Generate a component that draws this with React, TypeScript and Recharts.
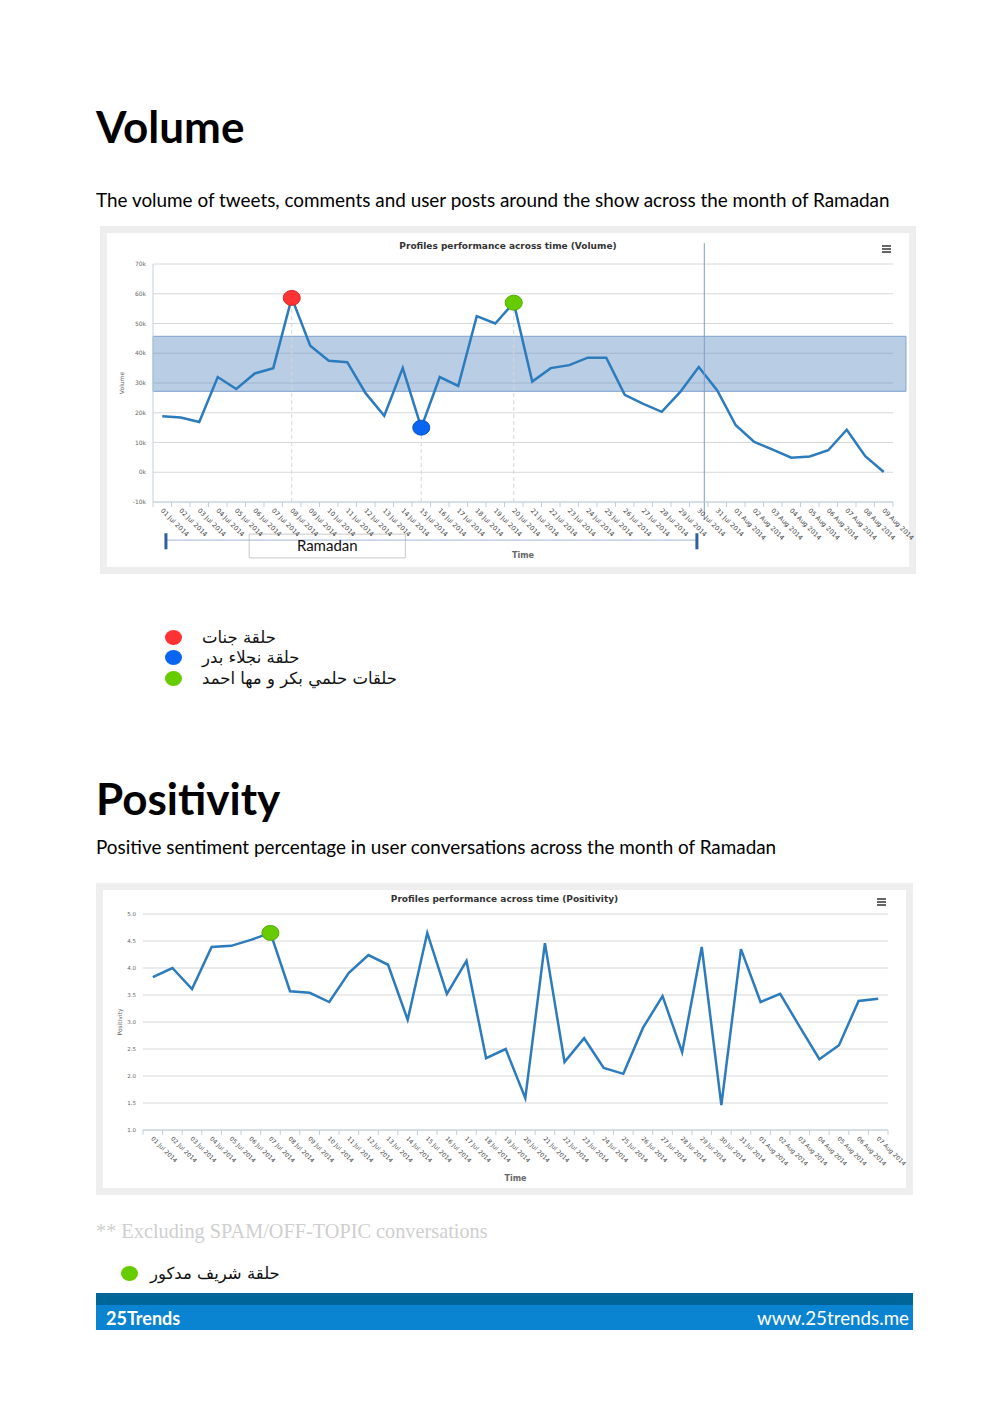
import React from "react";
import {
  LineChart,
  Line,
  XAxis,
  YAxis,
  CartesianGrid,
  ReferenceArea,
  ReferenceLine,
} from "recharts";

// calendar labels (01 Jul 2014 .. 09 Aug 2014)
const days = [
  "01 Jul 2014", "02 Jul 2014", "03 Jul 2014", "04 Jul 2014", "05 Jul 2014",
  "06 Jul 2014", "07 Jul 2014", "08 Jul 2014", "09 Jul 2014", "10 Jul 2014",
  "11 Jul 2014", "12 Jul 2014", "13 Jul 2014", "14 Jul 2014", "15 Jul 2014",
  "16 Jul 2014", "17 Jul 2014", "18 Jul 2014", "19 Jul 2014", "20 Jul 2014",
  "21 Jul 2014", "22 Jul 2014", "23 Jul 2014", "24 Jul 2014", "25 Jul 2014",
  "26 Jul 2014", "27 Jul 2014", "28 Jul 2014", "29 Jul 2014", "30 Jul 2014",
  "31 Jul 2014", "01 Aug 2014", "02 Aug 2014", "03 Aug 2014", "04 Aug 2014",
  "05 Aug 2014", "06 Aug 2014", "07 Aug 2014", "08 Aug 2014", "09 Aug 2014",
];

const volumeValues = [
  18800, 18400, 16900, 32000, 28000, 33200, 35000, 58600, 42500, 37500,
  37000, 26500, 19000, 35000, 15000, 32000, 29000, 52500, 50000, 57000,
  30500, 35000, 36000, 38500, 38500, 26000, 23000, 20300, 27000, 35400,
  27500, 15800, 10200, 7600, 4900, 5300, 7400, 14300, 5400, 100,
];
const volumeTicks = [-10000, 0, 10000, 20000, 30000, 40000, 50000, 60000, 70000];
const volumeBand = [27200, 45700];
const volumeMarkers = [
  { index: 7, color: "#ff3333", stroke: "#d92b2b" },
  { index: 14, color: "#0a66f0", stroke: "#0a55c8" },
  { index: 19, color: "#66cc00", stroke: "#55aa00" },
];

const positivityDays = days.slice(0, 38);
const positivityValues = [
  3.83, 4.0, 3.61, 4.39, 4.41, 4.52, 4.65, 3.57, 3.54, 3.37,
  3.91, 4.24, 4.06, 3.04, 4.65, 3.52, 4.13, 2.33, 2.5, 1.59,
  4.46, 2.26, 2.7, 2.15, 2.04, 2.89, 3.48, 2.44, 4.39, 1.46,
  4.35, 3.37, 3.52, 2.91, 2.31, 2.57, 3.39, 3.43,
];
const positivityTicks = [1, 1.5, 2, 2.5, 3, 3.5, 4, 4.5, 5];
const positivityMarkers = [{ index: 6, color: "#66cc00", stroke: "#55aa00" }];

const volumeLegend = [
  { color: "#ff3333", text: "حلقة جنات" },
  { color: "#0a66f0", text: "حلقة نجلاء بدر" },
  { color: "#66cc00", text: "حلقات حلمي بكر و مها احمد" },
];
const positivityLegend = [{ color: "#66cc00", text: "حلقة شريف مدكور" }];

const volumeData = volumeValues.map((v, i) => ({ i, v }));
const positivityData = positivityValues.map((v, i) => ({ i, v }));

const tickPositions = (n: number) => {
  const t: number[] = [];
  for (let i = 0; i < n; i++) t.push(i - 0.5, i);
  t.push(n - 0.5);
  return t;
};

const LINE = "#2c7bbd";
const PAGE_FONT = "Lato, 'Open Sans', sans-serif";
const CHART_FONT = "'DejaVu Sans', Verdana, sans-serif";

function makeDateTick(labels: string[], fontSize: number) {
  return (props: any) => {
    const { x, y, payload } = props;
    const v = payload.value as number;
    if (!Number.isInteger(v)) {
      return <line x1={x} x2={x} y1={y} y2={y + 5} stroke="#c0d0e0" />;
    }
    const ax = x - 2;
    const ay = y + 9;
    return (
      <text
        x={ax}
        y={ay}
        transform={`rotate(45 ${ax} ${ay})`}
        fontSize={fontSize}
        fill="#444"
        fontFamily={CHART_FONT}
      >
        {labels[v]}
      </text>
    );
  };
}

function makeDot(markers: { index: number; color: string; stroke: string }[]) {
  return (props: any) => {
    const { cx, cy, index } = props;
    const m = markers.find((mk) => mk.index === index);
    if (!m) return <g key={`d${index}`} />;
    return (
      <ellipse
        key={`d${index}`}
        cx={cx}
        cy={cy}
        rx={8.5}
        ry={7.5}
        fill={m.color}
        stroke={m.stroke}
        strokeWidth={1}
      />
    );
  };
}

function Hamburger({ left, top }: { left: number; top: number }) {
  return (
    <div style={{ position: "absolute", left, top, width: 9 }}>
      {[0, 1, 2].map((k) => (
        <div key={k} style={{ height: 1.5, background: "#666", marginBottom: 1.5 }} />
      ))}
    </div>
  );
}

function Frame({
  left,
  top,
  width,
  height,
  title,
  titleTop,
  children,
}: {
  left: number;
  top: number;
  width: number;
  height: number;
  title: string;
  titleTop: number;
  children: React.ReactNode;
}) {
  return (
    <div
      style={{
        position: "absolute",
        left,
        top,
        width,
        height,
        border: "7px solid #eeeeee",
        background: "#fff",
      }}
    >
      <div
        style={{
          position: "absolute",
          left: 0,
          top: titleTop,
          width: "100%",
          textAlign: "center",
          fontFamily: CHART_FONT,
          fontSize: 9,
          fontWeight: "bold",
          color: "#333",
        }}
      >
        {title}
      </div>
      {children}
    </div>
  );
}

function Legend({
  items,
  left,
  top,
  gap,
  space,
}: {
  items: { color: string; text: string }[];
  left: number;
  top: number;
  gap: number;
  space: number;
}) {
  return (
    <div style={{ position: "absolute", left, top }}>
      {items.map((it) => (
        <div key={it.text} style={{ display: "flex", alignItems: "center", height: gap }}>
          <div
            style={{
              width: 17,
              height: 15,
              borderRadius: "50%",
              background: it.color,
              marginRight: space,
            }}
          />
          <span
            dir="rtl"
            style={{ fontFamily: "'DejaVu Sans', sans-serif", fontSize: 16.5, color: "#111" }}
          >
            {it.text}
          </span>
        </div>
      ))}
    </div>
  );
}

function VolumeChart() {
  const bottom = volumeTicks[0];
  return (
    <LineChart
      width={802}
      height={334}
      data={volumeData}
      margin={{ top: 31, right: 16, left: 0, bottom: 0 }}
    >
      <CartesianGrid vertical={false} stroke="#d8d8d8" />
      <XAxis
        dataKey="i"
        type="number"
        domain={[-0.5, days.length - 0.5]}
        ticks={tickPositions(days.length)}
        interval={0}
        height={65}
        tickSize={0}
        tickMargin={0}
        tickLine={false}
        axisLine={{ stroke: "#c0d0e0" }}
        tick={makeDateTick(days, 6.5)}
        label={{
          value: "Time",
          position: "insideBottom",
          offset: 9,
          fill: "#666",
          fontSize: 8,
          fontFamily: CHART_FONT,
          fontWeight: "bold",
        }}
      />
      <YAxis
        width={46}
        domain={[volumeTicks[0], volumeTicks[volumeTicks.length - 1]]}
        ticks={volumeTicks}
        interval={0}
        tickSize={0}
        tickMargin={7}
        tickLine={false}
        axisLine={{ stroke: "#c0d0e0" }}
        tickFormatter={(v: number) => `${v / 1000}k`}
        tick={{ fontSize: 6, fill: "#666", fontFamily: CHART_FONT }}
        label={{
          value: "Volume",
          angle: -90,
          position: "insideLeft",
          offset: 15,
          fill: "#666",
          fontSize: 6,
          fontFamily: CHART_FONT,
          textAnchor: "middle",
        }}
      />
      {volumeMarkers.map((m) => (
        <ReferenceLine
          key={`g${m.index}`}
          segment={[
            { x: m.index, y: bottom },
            { x: m.index, y: volumeValues[m.index] },
          ]}
          stroke="#d6d6d6"
          strokeDasharray="4 3"
          ifOverflow="visible"
        />
      ))}
      <Line
        type="linear"
        dataKey="v"
        stroke={LINE}
        strokeWidth={2.5}
        dot={makeDot(volumeMarkers)}
        activeDot={false}
        isAnimationActive={false}
      />
      <ReferenceArea
        x1={-0.5}
        x2={40.2}
        y1={volumeBand[0]}
        y2={volumeBand[1]}
        fill="#4f81bd"
        fillOpacity={0.4}
        stroke="#7fa2cf"
        strokeOpacity={1}
        ifOverflow="visible"
      />
      <ReferenceLine
        segment={[
          { x: 29.3, y: 77000 },
          { x: 29.3, y: -16000 },
        ]}
        stroke="#7d9dc8"
        strokeWidth={1}
        ifOverflow="visible"
      />
      {/* Ramadan bracket under the axis */}
      <ReferenceLine
        segment={[
          { x: 0.2, y: -22800 },
          { x: 28.9, y: -22800 },
        ]}
        stroke="#9fb6d2"
        strokeWidth={1}
        ifOverflow="visible"
      />
      <ReferenceLine
        segment={[
          { x: 0.2, y: -20500 },
          { x: 0.2, y: -25900 },
        ]}
        stroke="#2f5f9f"
        strokeWidth={3}
        ifOverflow="visible"
      />
      <ReferenceLine
        segment={[
          { x: 28.9, y: -20500 },
          { x: 28.9, y: -25900 },
        ]}
        stroke="#2f5f9f"
        strokeWidth={3}
        ifOverflow="visible"
      />
      <ReferenceArea
        x1={4.7}
        x2={13.14}
        y1={-20800}
        y2={-28800}
        fill="#fff"
        fillOpacity={1}
        stroke="#c8c8c8"
        strokeOpacity={1}
        ifOverflow="visible"
        label={{
          value: "Ramadan",
          position: "center",
          fill: "#111",
          fontSize: 15,
          fontFamily: PAGE_FONT,
        }}
      />
    </LineChart>
  );
}

function PositivityChart() {
  return (
    <LineChart
      width={803}
      height={298}
      data={positivityData}
      margin={{ top: 24, right: 18, left: 0, bottom: 0 }}
    >
      <CartesianGrid vertical={false} stroke="#d8d8d8" />
      <XAxis
        dataKey="i"
        type="number"
        domain={[-0.5, positivityDays.length - 0.5]}
        ticks={tickPositions(positivityDays.length)}
        interval={0}
        height={58}
        tickSize={0}
        tickMargin={0}
        tickLine={false}
        axisLine={{ stroke: "#c0d0e0" }}
        tick={makeDateTick(positivityDays, 6)}
        label={{
          value: "Time",
          position: "insideBottom",
          offset: 7,
          fill: "#666",
          fontSize: 8,
          fontFamily: CHART_FONT,
          fontWeight: "bold",
        }}
      />
      <YAxis
        width={40}
        domain={[positivityTicks[0], positivityTicks[positivityTicks.length - 1]]}
        ticks={positivityTicks}
        interval={0}
        tickSize={0}
        tickMargin={7}
        tickLine={false}
        axisLine={false}
        tickFormatter={(v: number) => v.toFixed(1)}
        tick={{ fontSize: 5.5, fill: "#666", fontFamily: CHART_FONT }}
        label={{
          value: "Positivity",
          angle: -90,
          position: "insideLeft",
          offset: 17,
          fill: "#666",
          fontSize: 6,
          fontFamily: CHART_FONT,
          textAnchor: "middle",
        }}
      />
      <Line
        type="linear"
        dataKey="v"
        stroke={LINE}
        strokeWidth={2.5}
        dot={makeDot(positivityMarkers)}
        activeDot={false}
        isAnimationActive={false}
      />
    </LineChart>
  );
}

export default function App() {
  return (
    <div
      style={{
        position: "absolute",
        left: 0,
        top: 0,
        width: 1008,
        height: 1427,
        background: "#fff",
        fontFamily: PAGE_FONT,
        color: "#000",
      }}
    >
      <style>{".recharts-surface{overflow:visible !important}"}</style>
      <div style={{ position: "absolute", left: 96, top: 104, fontSize: 44, lineHeight: 1, fontWeight: "bold" }}>
        Volume
      </div>
      <div style={{ position: "absolute", left: 96, top: 191, fontSize: 18.9, lineHeight: 1 }}>
        The volume of tweets, comments and user posts around the show across the month of Ramadan
      </div>

      <Frame left={100} top={226} width={802} height={334} title="Profiles performance across time (Volume)" titleTop={8}>
        <Hamburger left={775} top={12} />
        <VolumeChart />
      </Frame>

      <Legend items={volumeLegend} left={165} top={627} gap={20.5} space={20} />

      <div style={{ position: "absolute", left: 96, top: 776, fontSize: 44, lineHeight: 1, fontWeight: "bold" }}>
        Positivity
      </div>
      <div style={{ position: "absolute", left: 96, top: 838, fontSize: 18.9, lineHeight: 1 }}>
        Positive sentiment percentage in user conversations across the month of Ramadan
      </div>

      <Frame left={96} top={883} width={803} height={298} title="Profiles performance across time (Positivity)" titleTop={4}>
        <Hamburger left={774} top={8} />
        <PositivityChart />
      </Frame>

      <div
        style={{
          position: "absolute",
          left: 96,
          top: 1221,
          fontFamily: "'Liberation Serif', 'Times New Roman', serif",
          fontSize: 20.3,
          lineHeight: 1,
          color: "#cfcfcf",
        }}
      >
        ** Excluding SPAM/OFF-TOPIC conversations
      </div>

      <Legend items={positivityLegend} left={121} top={1262} gap={22} space={12} />

      <div style={{ position: "absolute", left: 96, top: 1293, width: 817, height: 12, background: "#006699" }} />
      <div style={{ position: "absolute", left: 96, top: 1305, width: 817, height: 25, background: "#0a84d0" }} />
      <div
        style={{
          position: "absolute",
          left: 106,
          top: 1309,
          fontSize: 18,
          lineHeight: 1,
          fontWeight: "bold",
          color: "#fff",
        }}
      >
        25Trends
      </div>
      <div
        style={{
          position: "absolute",
          right: 1008 - 909,
          top: 1309,
          fontSize: 18.8,
          lineHeight: 1,
          color: "#fff",
        }}
      >
        www.25trends.me
      </div>
    </div>
  );
}
